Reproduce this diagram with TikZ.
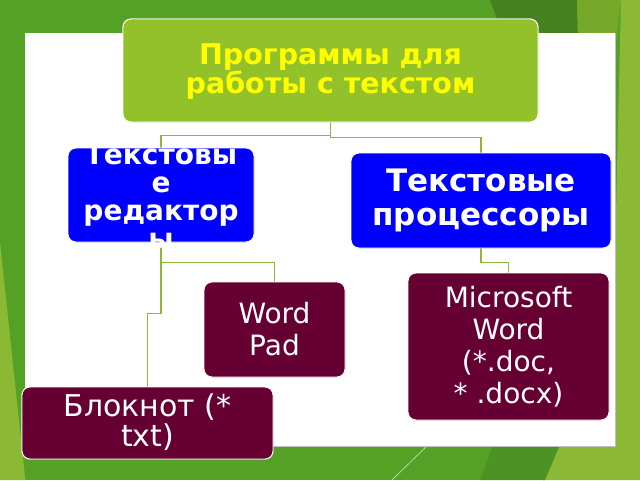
\documentclass[tikz,border=0pt]{standalone}
\usepackage{fontspec}
\setmainfont{DejaVu Sans}
\definecolor{bgmain}{HTML}{55A125}
\definecolor{bgdark}{HTML}{44821F}
\definecolor{bgmid}{HTML}{76A92A}
\definecolor{bglight}{HTML}{8BB935}
\definecolor{bgdark2}{HTML}{4D9323}
\definecolor{topc}{HTML}{93C12A}
\definecolor{bluec}{HTML}{0000FF}
\definecolor{burg}{HTML}{660033}
\definecolor{connc}{HTML}{8DB83A}
\definecolor{txtyellow}{HTML}{FFFF00}
\begin{document}
\begin{tikzpicture}[x=1pt,y=-1pt,
  box/.style={rounded corners=8pt, draw=white, line width=0.9pt, inner sep=0pt},
  conn/.style={draw=connc, line width=1.6pt},
  toptxt/.style={text=txtyellow, align=center, font=\fontsize{28.5}{28.5}\selectfont\bfseries},
  bluetxt/.style={text=white, align=center, font=\fontsize{28}{28}\selectfont\bfseries},
  bluetxtb/.style={text=white, align=center, font=\fontsize{31}{34}\selectfont\bfseries},
  burgtxt/.style={text=white, align=center, font=\fontsize{28}{32}\selectfont},
  burgtxtb/.style={text=white, align=center, font=\fontsize{30}{30}\selectfont}]
\useasboundingbox (0,0) rectangle (640,480);
% background
\fill[bgmain] (0,0) rectangle (640,480);
\fill[bgdark] (490,0) -- (577,0) -- (578,40) -- (505,40) -- cycle;
\fill[bgmid] (577,0) -- (621,0) -- (616,40) -- (578,40) -- cycle;
\fill[bglight] (621,0) -- (640,0) -- (640,480) -- (543,480) -- (560,440) -- (614,300) -- cycle;
\fill[bgdark2] (495,440) -- (562,440) -- (545,480) -- (480,480) -- cycle;
\fill[bglight] (0,242) -- (25,477) -- (25,480) -- (0,480) -- cycle;
\draw[white!70!bgmain, line width=0.6pt] (431,442) -- (392,480);
% white panel
\fill[white] (25,33) rectangle (615,446);
\draw[black!25, line width=0.5pt] (25,446) -- (615,446) -- (615,33);
% boxes (named, used as connector ends)
\node[box, fill=topc, minimum width=415pt, minimum height=103pt] (top) at (330.5,70.5) {};
\node[box, fill=bluec, minimum width=186pt, minimum height=94pt] (ledit) at (161,195) {};
\node[box, fill=bluec, minimum width=260pt, minimum height=95pt] (rproc) at (481,200.5) {};
\node[box, fill=burg, minimum width=141pt, minimum height=95pt] (wpad) at (274.5,329.5) {};
\node[box, fill=burg, minimum width=201pt, minimum height=147pt] (msword) at (508.5,346.5) {};
\node[box, fill=burg, minimum width=251pt, minimum height=72pt] (notepad) at (147.5,423) {};
% connectors
\draw[conn] (top.south) -- ++(0,13) -| (ledit.north);
\draw[conn] (top.south) -- ++(0,15) -| (rproc.north);
\draw[conn] (ledit.south) -- ++(0,20) -| (wpad.north);
\draw[conn] (ledit.south) -- ++(0,71) -| (notepad.north);
\draw[conn] (rproc.south) -- ++(0,14) -| (msword.north);
% redraw boxes over connector ends
\node[box, fill=topc, minimum width=415pt, minimum height=103pt] at (top.center) {};
\node[box, fill=bluec, minimum width=186pt, minimum height=94pt] at (ledit.center) {};
\node[box, fill=bluec, minimum width=260pt, minimum height=95pt] at (rproc.center) {};
\node[box, fill=burg, minimum width=141pt, minimum height=95pt] at (wpad.center) {};
\node[box, fill=burg, minimum width=201pt, minimum height=147pt] at (msword.center) {};
\node[box, fill=burg, minimum width=251pt, minimum height=72pt] at (notepad.center) {};
% texts
\node[toptxt] (toptext) at ([yshift=-1pt]top.center) {Программы для\\работы с текстом};
\node[bluetxt] (ledittext) at ([yshift=-1pt]ledit.center) {Текстовы\\е\\редактор\\ы};
\node[bluetxtb] (rproctext) at (rproc.center) {Текстовые\\процессоры};
\node[burgtxt] (wpadtext) at (wpad.center) {Word\\Pad};
\node[burgtxt] (mswordtext) at (msword.center) {Microsoft\\Word\\(*.doc,\\* .docx)};
\node[burgtxtb] (notepadtext) at ([yshift=1pt]notepad.center) {Блокнот (*\\txt)};
\end{tikzpicture}
\end{document}
